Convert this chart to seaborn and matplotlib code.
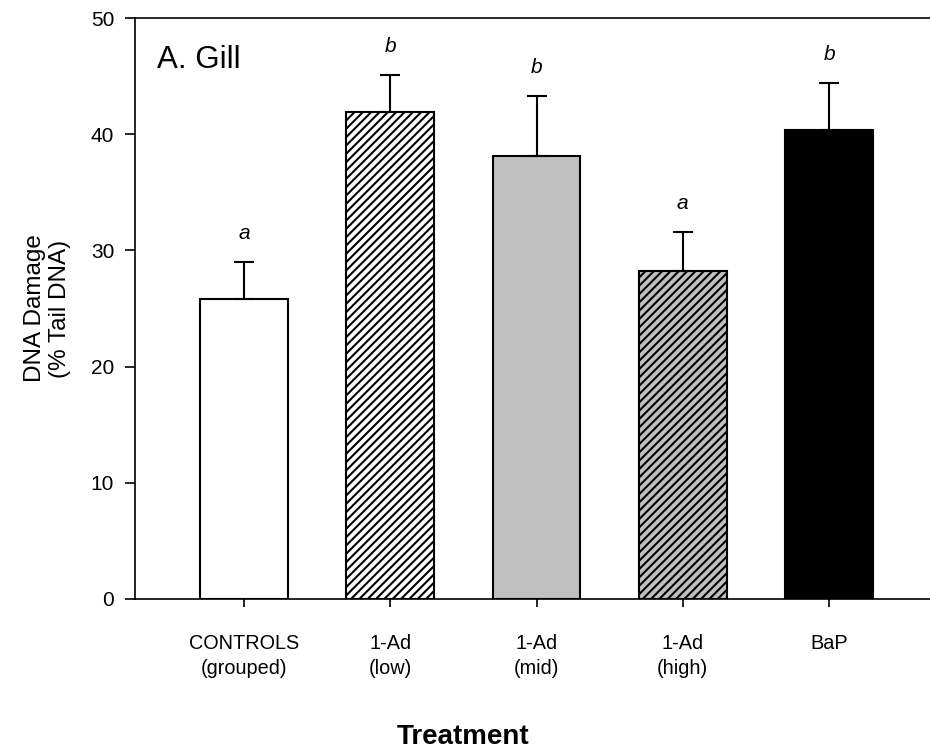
import matplotlib
matplotlib.use("Agg")
import matplotlib.pyplot as plt
import seaborn as sns
import pandas as pd

# ---- data ----
categories = ["CONTROLS\n(grouped)", "1-Ad\n(low)", "1-Ad\n(mid)", "1-Ad\n(high)", "BaP"]
means = [25.8, 41.9, 38.1, 28.2, 40.4]
errors = [3.2, 3.2, 5.2, 3.4, 4.0]
letters = ["a", "b", "b", "a", "b"]
fill_colors = ["#ffffff", "#ffffff", "#c0c0c0", "#c0c0c0", "#000000"]
hatches = ["", "////", "", "////", ""]
y_ticks = [0, 10, 20, 30, 40, 50]

sns.set_theme(style="white")
plt.rcParams["font.family"] = ["Liberation Sans", "DejaVu Sans"]
plt.rcParams["hatch.linewidth"] = 1.5
plt.rcParams["hatch.color"] = "black"
plt.rcParams["text.color"] = "black"
plt.rcParams["axes.labelcolor"] = "black"
plt.rcParams["xtick.color"] = "black"
plt.rcParams["ytick.color"] = "black"

df = pd.DataFrame({"treatment": categories, "damage": means})

fig = plt.figure(figsize=(9.3, 7.54), dpi=100)
ax = fig.add_axes([135 / 930, 155 / 754, 795 / 930, 581 / 754])

sns.barplot(data=df, x="treatment", y="damage", hue="treatment",
            palette=fill_colors, legend=False, width=0.6,
            edgecolor="black", linewidth=1.5, errorbar=None, ax=ax)

for patch, h in zip(ax.patches, hatches):
    patch.set_hatch(h)
    patch.set_edgecolor("black")

pos = list(range(len(categories)))
ax.errorbar(pos, means, yerr=[[0] * len(errors), errors], fmt="none",
            ecolor="black", elinewidth=1.5, capsize=7, capthick=1.5, zorder=1)

for i, (m, e, l) in enumerate(zip(means, errors, letters)):
    ax.text(i, m + e + 1.6, l, ha="center", va="bottom",
            fontsize=15, fontstyle="italic", color="black")

ax.text(0.028, 0.914, "A. Gill", transform=ax.transAxes, fontsize=22.5,
        ha="left", va="baseline", color="black")

ax.set_xlim(-0.745, 4.69)
ax.set_ylim(0, 50)
ax.set_yticks(y_ticks)
ax.set_yticklabels([str(t) for t in y_ticks])

for side in ["left", "bottom", "top"]:
    ax.spines[side].set_visible(True)
    ax.spines[side].set_color("black")
    ax.spines[side].set_linewidth(1.2)
ax.spines["right"].set_visible(False)

ax.tick_params(axis="y", direction="out", length=7, width=1.2, pad=8,
               labelsize=15, left=True, colors="black")
ax.tick_params(axis="x", direction="out", length=6, width=1.2, pad=19,
               labelsize=14.3, bottom=True, colors="black")
for lab in ax.get_xticklabels():
    lab.set_linespacing(1.45)

ax.set_ylabel("DNA Damage\n(% Tail DNA)", fontsize=17.5, labelpad=14, color="black")
ax.set_xlabel("Treatment", fontsize=20, fontweight="bold", color="black")
ax.xaxis.set_label_coords((463 - 135) / 795, (599 - 737) / 581)
ax.xaxis.label.set_va("center")

fig.savefig("out.png", dpi=100)
